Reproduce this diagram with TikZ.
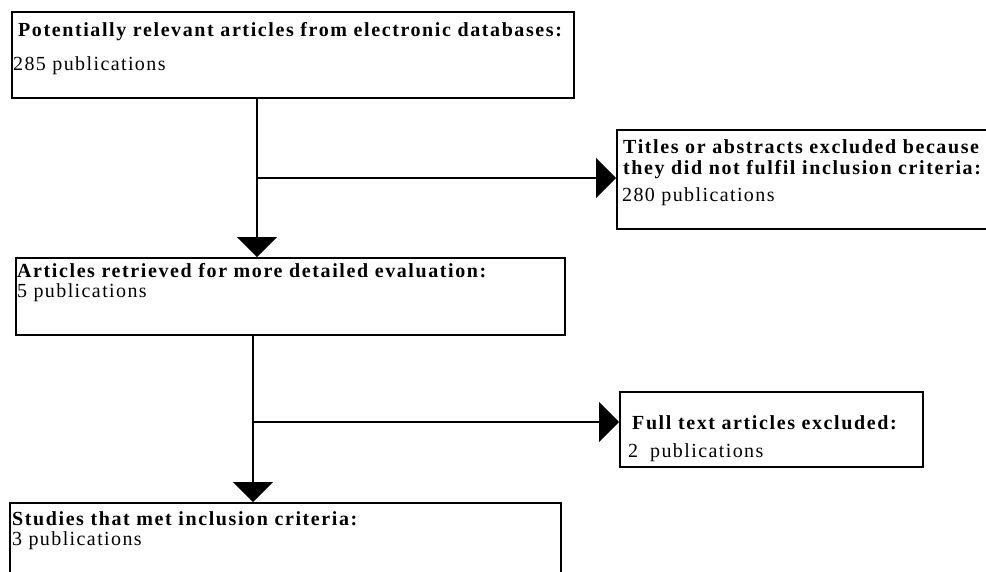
\documentclass[tikz,border=0pt]{standalone}
\usepackage{fontspec}
\setmainfont{Liberation Serif}[LetterSpace=7, BoldFeatures={LetterSpace=8}]
\usepackage{tikz}
\usetikzlibrary{arrows.meta,positioning,calc}

\begin{document}
\begin{tikzpicture}[
        x=1pt, y=-1pt, font=\fontsize{20}{24}\selectfont,
        box/.style={draw, line width=1.6pt, anchor=north west, inner sep=0pt},
        head/.style={anchor=base west, inner sep=0pt, font=\fontsize{20}{24}\selectfont\bfseries},
        body/.style={anchor=base west, inner sep=0pt},
        line/.style={-{Triangle[length=20pt, width=40pt]}, line width=1.3pt}]
        \clip (0,0) rectangle (986,571);
        % boxes
        \node[box, minimum width=562pt, minimum height=86pt] (db) at (11,11) {};
        \node[box, minimum width=384pt, minimum height=99pt] (tia) at (616,129) {};
        \node[box, minimum width=549pt, minimum height=77pt] (ret) at (15,257) {};
        \node[box, minimum width=303pt, minimum height=75pt] (ft) at (619,391) {};
        \node[box, minimum width=551pt, minimum height=88pt] (inc) at (9,502) {};
        % texts
        \node[head] (dbA) at (18,36) {Potentially relevant articles from electronic databases:};
        \node[body] (dbB) at (13,70) {285 publications};
        \node[head] (tiaA) at (623,153) {Titles or abstracts excluded because};
        \node[head] (tiaB) at (623,174) {they did not fulfil inclusion criteria:};
        \node[body] (tiaC) at (622,201) {280 publications};
        \node[head] (retA) at (17,277) {Articles retrieved for more detailed evaluation:};
        \node[body] (retB) at (17,297) {5 publications};
        \node[head] (ftA) at (632,429) {Full text articles excluded:};
        \node[body] (ftB) at (628,457) {2\hspace{12pt}publications};
        \node[head] (incA) at (12,525) {Studies that met inclusion criteria:};
        \node[body] (incB) at (12,545) {3 publications};
        % connectors
        \coordinate (j1) at (257,178);
        \coordinate (j2) at (253,422);
        \draw[line] (db.south -| j1) -- (ret.north -| j1);
        \draw[line] (j1) -- (j1 -| tia.west);
        \draw[line] (ret.south -| j2) -- (inc.north -| j2);
        \draw[line] (j2) -- (j2 -| ft.west);
\end{tikzpicture}
\end{document}
